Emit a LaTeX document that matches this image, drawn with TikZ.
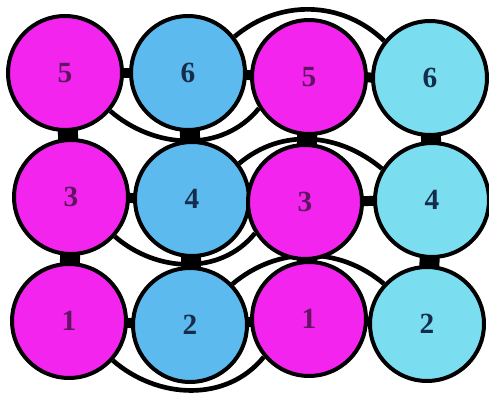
\documentclass[tikz,border=0pt]{standalone}
\usepackage{fontspec}
\setmainfont{Liberation Serif}
\usetikzlibrary{backgrounds}
\definecolor{ballpink}{RGB}{242,36,238}
\definecolor{ballblue}{RGB}{92,186,238}
\definecolor{ballcyan}{RGB}{122,222,240}
\definecolor{inkpink}{RGB}{95,20,95}
\definecolor{inkblue}{RGB}{20,45,75}

\begin{document}
\begin{tikzpicture}[
  x=0.03cm, y=0.03cm,
  font=\fontsize{25}{25}\selectfont\bfseries,
  ball/.style={circle, draw=black, line width=0.12cm, minimum size=3.42cm,
               inner sep=0pt},
  pinkball/.style={ball, fill=ballpink, text=inkpink},
  blueball/.style={ball, fill=ballblue, text=inkblue},
  cyanball/.style={ball, fill=ballcyan, text=inkblue},
  link/.style={line width=0.3cm, shorten <=-0.15cm, shorten >=-0.15cm},
  stack/.style={line width=0.6cm, shorten <=-0.3cm, shorten >=-0.3cm},
  rim/.style={line width=0.14cm}]
\useasboundingbox (0,0) rectangle (489,394);
% top row
\node[pinkball] (r1c1) at (65,321)  {5};
\node[blueball] (r1c2) at (188,321) {6};
\node[pinkball] (r1c3) at (309,317) {5};
\node[cyanball] (r1c4) at (430,316) {6};
% middle row
\node[pinkball] (r2c1) at (71,197)  {3};
\node[blueball] (r2c2) at (192,195) {4};
\node[pinkball] (r2c3) at (305,192) {3};
\node[cyanball] (r2c4) at (432,194) {4};
% bottom row
\node[pinkball] (r3c1) at (69,73)   {1};
\node[blueball] (r3c2) at (190,69)  {2};
\node[pinkball] (r3c3) at (309,75)  {1};
\node[cyanball] (r3c4) at (427,70)  {2};
\begin{scope}[on background layer]
% contacts in a row
\path[link]
  (r1c1) edge (r1c2)
  (r1c2) edge (r1c3)
  (r1c3) edge (r1c4)
  (r2c1) edge (r2c2)
  (r2c2) edge (r2c3)
  (r2c3) edge (r2c4)
  (r3c1) edge (r3c2)
  (r3c2) edge (r3c3)
  (r3c3) edge (r3c4);
% contacts between rows
\path[stack]
  (r1c1) edge (r2c1)
  (r2c1) edge (r3c1)
  (r1c2) edge (r2c2)
  (r2c2) edge (r3c2)
  (r1c3) edge (r2c3)
  (r2c3) edge (r3c3)
  (r1c4) edge (r2c4)
  (r2c4) edge (r3c4);
% rims
\path[rim]
  (r1c1.-40) edge[out=-41, in=-129] (r1c3.-148)
  (r2c1.-42) edge[out=-41, in=-129] (r2c3.-148)
  (r3c1.-42) edge[out=-41, in=-129] (r3c3.-140)
  (r1c2.38)  edge[out=40, in=136]   (r1c4.141)
  (r2c2.37)  edge[out=40, in=140]   (r2c4.148)
  (r3c2.44)  edge[out=40, in=140]   (r3c4.137);
\end{scope}
\end{tikzpicture}
\end{document}
